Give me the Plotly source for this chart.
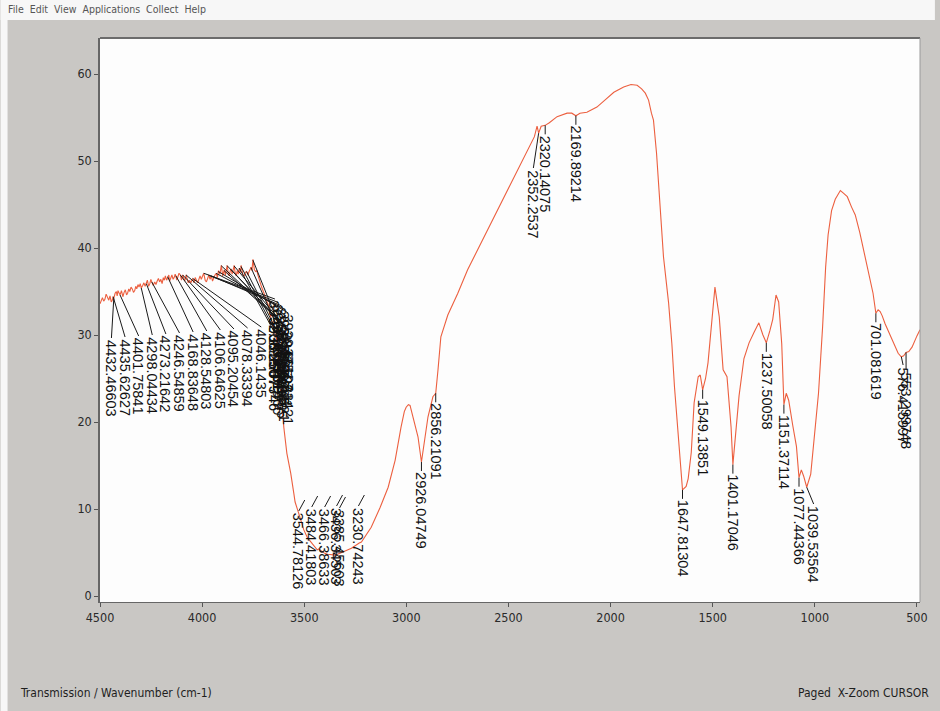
import numpy as np
import plotly.graph_objects as go

# ---- spectrum (wavenumber in cm-1, % transmission) ----
wavenumber = [
    4500, 4494, 4488, 4482, 4476, 4470, 4463, 4457, 4451, 4445,
    4440, 4435.62627, 4432.46603, 4426, 4420, 4416, 4412, 4406, 4401.75841, 4395,
    4388, 4382, 4376, 4370, 4365, 4359, 4354, 4348, 4342, 4336,
    4330, 4325, 4320, 4314, 4309, 4303, 4298.04434, 4291, 4285, 4279,
    4273.21642, 4268, 4262, 4256, 4251, 4246.54859, 4240, 4232, 4226, 4220,
    4214, 4208, 4202, 4196, 4190, 4185, 4180, 4174, 4168.83648, 4163,
    4159, 4154, 4148, 4142, 4137, 4132, 4128.54803, 4124, 4120, 4113,
    4106.64625, 4101, 4095.20454, 4090, 4085, 4078.33394, 4073, 4068, 4062, 4055,
    4046.1435, 4040, 4034, 4028, 4022, 4016, 4010, 4004, 3998, 3992,
    3985, 3979, 3973, 3967, 3961, 3955, 3949, 3943, 3937, 3931,
    3925, 3920, 3913, 3906, 3899, 3892, 3886, 3880, 3877, 3872,
    3868, 3863, 3858, 3853, 3848, 3843, 3838, 3833, 3828, 3823,
    3818, 3813, 3809, 3804, 3800, 3794, 3788, 3782, 3776, 3770,
    3765, 3760, 3756, 3751, 3747, 3744, 3738, 3732, 3727, 3721,
    3710, 3697, 3685, 3673, 3658, 3646, 3634, 3624, 3614, 3607,
    3600, 3585, 3566, 3551, 3544.78126, 3527, 3502, 3484.41803, 3466.38633, 3436.34503,
    3429, 3400, 3385.45603, 3347, 3308, 3269, 3230.74243, 3220, 3172, 3128,
    3089, 3055, 3026, 3010, 3001, 2990, 2982, 2967, 2943, 2926.04749,
    2909, 2894, 2870, 2856.21091, 2845, 2831, 2797, 2748, 2700, 2651,
    2602, 2554, 2505, 2456, 2408, 2373, 2360, 2352.2537, 2340, 2320.14075,
    2300, 2262, 2213, 2190, 2169.89214, 2150, 2116, 2067, 2028, 1984,
    1936, 1900, 1870, 1848, 1830, 1814, 1800, 1790, 1775, 1760,
    1741, 1716, 1700, 1687, 1663, 1647.81304, 1630, 1620, 1605, 1591,
    1571, 1561, 1549.13851, 1535, 1523, 1504, 1489, 1468, 1449, 1430,
    1420, 1410, 1401.17046, 1385, 1371, 1347, 1322, 1298, 1274, 1254,
    1237.50058, 1220, 1206, 1190, 1177, 1162, 1151.37114, 1140, 1128, 1108,
    1090, 1077.44366, 1066, 1055, 1039.53564, 1020, 1006, 982, 962, 947,
    935, 918, 900, 875, 860, 841, 820, 802, 780, 763,
    739, 715, 701.081619, 690, 680, 670, 656, 622, 592, 576.415997,
    565, 553.299748, 540, 524, 510, 500, 485,
]
transmission = [
    33.6, 34.1, 34.3, 33.9, 34.1, 34.7, 34.4, 34.0, 34.5, 33.8,
    34.0, 34.4, 34.2, 34.8, 35.0, 34.5, 35.1, 34.7, 34.6, 35.1,
    34.4, 34.9, 35.2, 34.6, 34.8, 35.3, 35.0, 35.5, 35.3, 34.9,
    35.1, 35.6, 35.3, 35.8, 35.5, 35.9, 35.4, 35.7, 36.0, 35.6,
    35.9, 36.3, 35.6, 35.9, 36.4, 36.1, 35.7, 36.1, 35.8, 36.2,
    36.5, 36.1, 36.4, 35.9, 36.6, 36.3, 36.8, 36.3, 36.7, 36.9,
    36.2, 36.6, 36.9, 36.4, 36.6, 37.0, 36.8, 36.3, 36.6, 37.1,
    36.9, 36.3, 36.9, 36.4, 36.2, 36.9, 36.5, 36.0, 36.3, 36.0,
    36.5, 36.0, 36.6, 36.3, 36.0, 36.4, 36.8, 36.4, 36.9, 37.1,
    36.3, 36.1, 36.5, 36.9, 36.4, 36.8, 36.2, 36.6, 36.9, 37.1,
    36.6, 37.4, 37.0, 38.0, 36.8, 37.5, 36.9, 37.7, 38.0, 37.0,
    36.8, 37.3, 37.6, 37.0, 37.4, 38.0, 37.1, 36.8, 37.4, 37.0,
    37.7, 37.2, 38.0, 37.2, 36.9, 36.8, 37.2, 37.3, 36.9, 37.3,
    37.5, 37.8, 37.4, 38.7, 38.0, 37.5, 37.3, 37.4, 36.9, 36.4,
    35.6, 34.8, 34.0, 33.2, 31.4, 30.4, 29.4, 27.8, 25.6, 21.7,
    19.4, 16.4, 14.1, 11.8, 10.8, 9.5, 7.6, 6.7, 6.2, 5.3,
    5.4, 4.9, 4.8, 4.7, 5.1, 5.5, 6.1, 6.2, 7.9, 10.2,
    12.5, 15.6, 19.4, 21.2, 21.7, 22.0, 21.9, 20.6, 18.3, 15.4,
    17.9, 20.6, 22.9, 23.3, 26.0, 29.8, 32.3, 34.8, 37.5, 39.8,
    42.1, 44.4, 46.7, 49.0, 51.3, 52.8, 54.0, 53.2, 54.0, 54.1,
    54.4, 55.1, 55.5, 55.5, 55.2, 55.5, 55.6, 56.2, 57.0, 57.9,
    58.5, 58.8, 58.7, 58.3, 57.8, 57.0, 55.5, 54.7, 50.9, 45.2,
    39.0, 33.7, 29.0, 24.0, 16.5, 12.2, 12.6, 13.5, 16.5, 22.2,
    25.2, 25.4, 23.7, 25.0, 26.8, 32.1, 35.5, 32.1, 26.0, 25.2,
    22.5, 19.4, 15.1, 19.0, 23.0, 27.3, 29.1, 30.3, 31.4, 30.0,
    29.1, 30.5, 31.8, 34.6, 33.8, 29.0, 22.0, 23.3, 22.5, 19.6,
    17.2, 13.6, 14.5, 13.8, 12.5, 14.0, 17.6, 23.3, 30.9, 37.8,
    41.5, 44.3, 45.6, 46.6, 46.3, 45.9, 44.7, 43.8, 41.8, 40.0,
    37.5, 34.8, 32.5, 32.9, 32.7, 32.2, 31.3, 29.4, 27.9, 27.5,
    27.6, 28.0, 28.1, 28.6, 29.4, 29.9, 30.6,
]

# ---- peak-pick labels ----
row_labels = [
    "4432.46603", "4435.62627", "4401.75841", "4298.04434", "4273.21642", "4246.54859",
    "4168.83648", "4128.54803", "4106.64625", "4095.20454", "4078.33394", "4046.1435",
]
stack_labels = [
    "3992.15556", "3967.70231", "3955.11834", "3931.40962", "3920.66107", "3906.25573",
    "3892.87019", "3877.38824", "3858.90465", "3843.52211", "3818.07746", "3809.61430",
    "3782.19385", "3760.74521", "3751.33421",
]
floor_labels = ["3544.78126", "3484.41803", "3466.38633", "3436.34503", "3385.45603", "3230.74243"]
drop_labels = [
    "2926.04749", "2856.21091", "2320.14075", "2169.89214", "1647.81304", "1549.13851",
    "1401.17046", "1237.50058", "1151.37114", "1077.44366", "701.081619",
]
slant_labels = ["2352.2537", "1039.53564", "576.415997", "553.299748"]

# ---- frame geometry (pixels) ----
W, H = 940, 711
PL, PR, PT, PB = 100, 925, 38, 602
XR = (4500, 485)
YR = (-0.69, 64.14)


def px_x(w):
    return PL + (XR[0] - w) / (XR[0] - XR[1]) * (PR - PL)


def px_y(t):
    return PB - (t - YR[0]) / (YR[1] - YR[0]) * (PB - PT)


def wn_at(px):
    return XR[0] - (px - PL) / (PR - PL) * (XR[0] - XR[1])


def t_at(py):
    return YR[0] + (PB - py) / (PB - PT) * (YR[1] - YR[0])


wn_arr = np.array(wavenumber, dtype=float)
tr_arr = np.array(transmission, dtype=float)


def curve_px(label):
    w = float(label)
    t = float(np.interp(w, wn_arr[::-1], tr_arr[::-1]))
    return px_x(w), px_y(t)


fig = go.Figure()
fig.add_trace(go.Scatter(
    x=wavenumber, y=transmission, mode="lines",
    line=dict(color="#ec5f3f", width=1.1), hoverinfo="skip", showlegend=False,
))

lead_x, lead_y = [], []
annotations = []
LABEL_FONT = dict(family="Liberation Sans, Arial, sans-serif", size=14.5, color="#111111")


def add_lead(p0, p1):
    lead_x.extend([wn_at(p0[0]), wn_at(p1[0]), None])
    lead_y.extend([t_at(p0[1]), t_at(p1[1]), None])


def add_label(text, lx, ty):
    annotations.append(dict(
        x=wn_at(lx), y=t_at(ty), xref="x", yref="y", text=text, textangle=90,
        xanchor="center", yanchor="top", showarrow=False, borderpad=0,
        font=LABEL_FONT,
    ))


# row of labels under the noisy high-wavenumber region
for i, lab in enumerate(row_labels):
    lx, ty = 111.5 + i * 13.7, 339 - i * 1.0
    cx, cy = curve_px(lab)
    add_lead((cx, cy), (lx, ty - 1))
    add_label(lab, lx, ty)

# overlapping stack of labels at the edge of the O-H band
for i, lab in enumerate(stack_labels):
    lx = 276 + (i % 5) * 3.2
    ty = 300 + i * 3.4
    cx, cy = curve_px(lab)
    add_lead((cx, cy), (lx, ty - 1))
    add_label(lab, lx, ty)

# labels along the bottom of the O-H band
floor_pos = [(300, 512), (313, 508), (326, 508), (338, 507), (341, 509), (360, 507)]
for lab, (lx, ty) in zip(floor_labels, floor_pos):
    add_lead((lx + 6, ty - 12), (lx, ty - 1))
    add_label(lab, lx, ty)

# labels hanging straight below their point
for lab in drop_labels:
    cx, cy = curve_px(lab)
    add_lead((cx, cy), (cx, cy + 9))
    add_label(lab, cx, cy + 9)

# labels with a slanted leader
slant_pos = {"2352.2537": (536, 169), "1039.53564": (818, 505),
             "576.415997": (908, 366), "553.299748": (911, 371)}
for lab in slant_labels:
    cx, cy = curve_px(lab)
    lx, ty = slant_pos[lab]
    add_lead((cx, cy), (lx, ty - 1))
    add_label(lab, lx, ty)

fig.add_trace(go.Scatter(
    x=lead_x, y=lead_y, mode="lines", line=dict(color="#1a1a1a", width=1),
    hoverinfo="skip", showlegend=False,
))


# window chrome texts
def paper_x(px):
    return (px - PL) / (PR - PL)


def paper_y(py):
    return (PB - py) / (PB - PT)


UI_FONT = dict(family="Liberation Sans Narrow, DejaVu Sans Condensed, Arial Narrow, sans-serif",
               size=12, color="#1e1e1e")
annotations += [
    dict(x=paper_x(18), y=paper_y(693), xref="paper", yref="paper", xanchor="left",
         yanchor="middle", showarrow=False, text="Transmission / Wavenumber (cm-1)", font=UI_FONT),
    dict(x=paper_x(936), y=paper_y(693), xref="paper", yref="paper", xanchor="right",
         yanchor="middle", showarrow=False, text="Paged&nbsp;&nbsp;X-Zoom CURSOR", font=UI_FONT),
    dict(x=paper_x(5), y=paper_y(9), xref="paper", yref="paper", xanchor="left",
         yanchor="middle", showarrow=False,
         text="File&nbsp;&nbsp;Edit&nbsp;&nbsp;View&nbsp;&nbsp;Applications&nbsp;&nbsp;Collect&nbsp;&nbsp;Help",
         font=dict(family=UI_FONT["family"], size=10.5, color="#555")),
]

shapes = [
    # white strip above the window body
    dict(type="rect", xref="paper", yref="paper", x0=paper_x(0), x1=paper_x(W),
         y0=paper_y(20), y1=paper_y(0), fillcolor="#f7f7f7", line_width=0, layer="below"),
    # thin white strip on the left edge
    dict(type="rect", xref="paper", yref="paper", x0=paper_x(0), x1=paper_x(7),
         y0=paper_y(H), y1=paper_y(0), fillcolor="#f7f7f7", line_width=0, layer="below"),
    # plot frame
    dict(type="line", xref="paper", yref="paper", x0=0, x1=1, y0=1, y1=1,
         line=dict(color="#6c6c6c", width=2)),
    dict(type="line", xref="paper", yref="paper", x0=1, x1=1, y0=0, y1=1,
         line=dict(color="#9a9a9a", width=1)),
]

TICK_FONT = dict(family="Liberation Sans Narrow, DejaVu Sans Condensed, Arial Narrow, sans-serif",
                 size=12.5, color="#2a2a2a")

fig.update_layout(
    width=W, height=H,
    margin=dict(l=PL, r=W - PR, t=PT, b=H - PB, pad=0),
    paper_bgcolor="#c9c7c4", plot_bgcolor="#fdfdfd",
    xaxis=dict(range=list(XR), tickvals=[4500, 4000, 3500, 3000, 2500, 2000, 1500, 1000, 500],
               ticks="outside", ticklen=4, tickcolor="#555", showline=True, linecolor="#666",
               linewidth=1, showgrid=False, zeroline=False, tickfont=TICK_FONT),
    yaxis=dict(range=list(YR), tickvals=[0, 10, 20, 30, 40, 50, 60], ticks="outside",
               ticklen=4, tickcolor="#555", showline=True, linecolor="#666", linewidth=1.5,
               showgrid=False, zeroline=False, tickfont=TICK_FONT),
    annotations=annotations, shapes=shapes, showlegend=False,
)

fig.write_html("out.html")
